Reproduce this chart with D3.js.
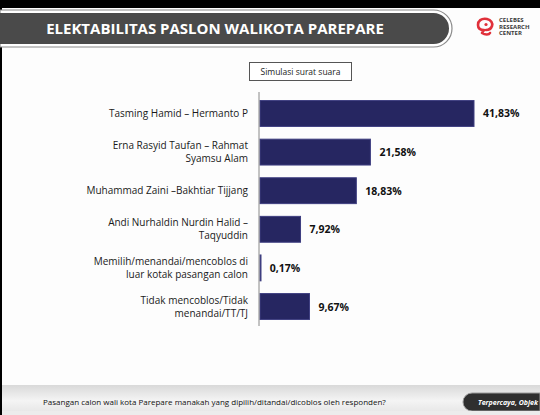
<!DOCTYPE html>
<html>
<head>
<meta charset="utf-8">
<script src="https://cdn.jsdelivr.net/npm/d3@7"></script>
<style>
  body { margin: 0; background: #000; }
  svg { display: block; font-family: "Open Sans", "Noto Sans", sans-serif; }
</style>
</head>
<body>
<svg id="chart" width="540" height="415"></svg>
<script>
// data
const categories = [
  ["Tasming Hamid \u2013 Hermanto P"],
  ["Erna Rasyid Taufan \u2013 Rahmat", "Syamsu Alam"],
  ["Muhammad Zaini \u2013Bakhtiar Tijjang"],
  ["Andi Nurhaldin Nurdin Halid \u2013", "Taqyuddin"],
  ["Memilih/menandai/mencoblos di", "luar kotak pasangan calon"],
  ["Tidak mencoblos/Tidak", "menandai/TT/TJ"]
];
const values = [41.83, 21.58, 18.83, 7.92, 0.17, 9.67];
const valueLabels = ["41,83%", "21,58%", "18,83%", "7,92%", "0,17%", "9,67%"];
const titleText = "ELEKTABILITAS PASLON WALIKOTA PAREPARE";
const legendText = "Simulasi surat suara";
const questionText = "Pasangan calon wali kota Parepare manakah yang dipilih/ditandai/dicoblos oleh responden?";
const taglineText = "Terpercaya, Objek";
const logoLines = ["CELEBES", "RESEARCH", "CENTER"];

const svg = d3.select("#chart");
const W = 540, H = 415;

// slide background
svg.append("rect").attr("width", W).attr("height", H).attr("fill", "#000");
svg.append("rect").attr("x", 2).attr("y", 8).attr("width", W - 2).attr("height", H - 8).attr("fill", "#fdfdfd");

const defs = svg.append("defs");
const footGrad = defs.append("linearGradient").attr("id", "foot").attr("x1", 0).attr("y1", 0).attr("x2", 0).attr("y2", 1);
footGrad.append("stop").attr("offset", "0%").attr("stop-color", "#d9d9d9");
footGrad.append("stop").attr("offset", "60%").attr("stop-color", "#f4f4f4");
footGrad.append("stop").attr("offset", "100%").attr("stop-color", "#e8e8e8");

// title banner
const bannerPath = (x0, y0, x1, y1) => {
  const r = (y1 - y0) / 2;
  return `M${x0},${y0} H${x1 - r} A${r},${r} 0 0 1 ${x1 - r},${y1} H${x0} Z`;
};
svg.append("path").attr("d", bannerPath(0, 10, 452, 47)).attr("fill", "#fff")
  .attr("stroke", "#8a8a8a").attr("stroke-width", 1.2);
svg.append("path").attr("d", bannerPath(0, 13, 449, 44)).attr("fill", "#4a4a4a");
svg.append("text").attr("x", 215).attr("y", 34).attr("text-anchor", "middle")
  .attr("fill", "#fff").attr("font-weight", "bold").attr("font-size", 15)
  .text(titleText);

// logo
const logo = svg.append("g").attr("transform", "translate(477,17)");
logo.append("path")
  .attr("d", "M10,2 C4,1 1,4 1,8 C1,12 4,13 7,13 L5,16 C8,18 12,18 13,16 M10,2 C14,3 16,6 15,9 C14,12 11,13 9,13")
  .attr("fill", "none").attr("stroke", "#e0303a").attr("stroke-width", 2.6).attr("stroke-linecap", "round").attr("stroke-linejoin", "round");
logo.append("circle").attr("cx", 9).attr("cy", 7.5).attr("r", 1.6).attr("fill", "#e0303a");
logo.selectAll("text.logo").data(logoLines).join("text")
  .attr("x", 22).attr("y", (d, i) => 5 + i * 6.5)
  .attr("font-size", 6).attr("font-weight", "bold").attr("fill", "#3a3a3a")
  .text(d => d);

// legend box
svg.append("rect").attr("x", 249.5).attr("y", 62.5).attr("width", 102).attr("height", 18)
  .attr("fill", "#fff").attr("stroke", "#555").attr("stroke-width", 1);
svg.append("text").attr("x", 300.5).attr("y", 75).attr("text-anchor", "middle")
  .attr("font-size", 8.5).attr("fill", "#222").text(legendText);

// scales
const x = d3.scaleLinear().domain([0, 41.83]).range([260, 474]);
const y = d3.scaleBand().domain(d3.range(values.length)).range([94, 326]).paddingInner(0.33).paddingOuter(0.17);

// bars
svg.append("g").selectAll("rect").data(values).join("rect")
  .attr("x", x(0))
  .attr("y", (d, i) => y(i))
  .attr("width", d => Math.max(1, x(d) - x(0)))
  .attr("height", y.bandwidth())
  .attr("fill", "#262661")
  .attr("stroke", "#3e3e80").attr("stroke-width", 1);

// axis line
const axis = svg.append("g").attr("transform", `translate(${x(0) - 1},0)`)
  .call(d3.axisLeft(y).tickSize(0).tickFormat(""));
axis.select(".domain").attr("stroke", "#888").attr("stroke-width", 1).attr("d", `M0,92V326`);

// category labels
const labels = svg.append("g").selectAll("text").data(categories).join("text")
  .attr("text-anchor", "end").attr("font-size", 10).attr("fill", "#1a1a1a")
  .attr("y", (d, i) => y(i) + y.bandwidth() / 2 - (d.length - 1) * 6.5 + 3.5);
labels.selectAll("tspan").data(d => d).join("tspan")
  .attr("x", 248).attr("dy", (d, j) => j === 0 ? 0 : 13).text(d => d);

// value labels
svg.append("g").selectAll("text").data(values).join("text")
  .attr("x", d => x(d) + 9)
  .attr("y", (d, i) => y(i) + y.bandwidth() / 2 + 4)
  .attr("font-size", 10.5).attr("font-weight", "bold").attr("fill", "#111")
  .text((d, i) => valueLabels[i]);

// footer
svg.append("rect").attr("x", 2).attr("y", 385).attr("width", W - 2).attr("height", 26).attr("fill", "url(#foot)");
svg.append("text").attr("x", 43).attr("y", 405).attr("font-size", 8).attr("fill", "#111").text(questionText);
svg.append("path").attr("d", "M472,393 H540 V411 H472 A9,9 0 0 1 472,393 Z")
  .attr("fill", "#2f2f2f").attr("stroke", "#999").attr("stroke-width", 1);
svg.append("text").attr("x", 478).attr("y", 405).attr("font-size", 7).attr("font-style", "italic")
  .attr("font-weight", "bold").attr("fill", "#fff").text(taglineText);
svg.append("rect").attr("x", 2).attr("y", 411).attr("width", W - 2).attr("height", 4).attr("fill", "#ececec");
</script>
</body>
</html>
